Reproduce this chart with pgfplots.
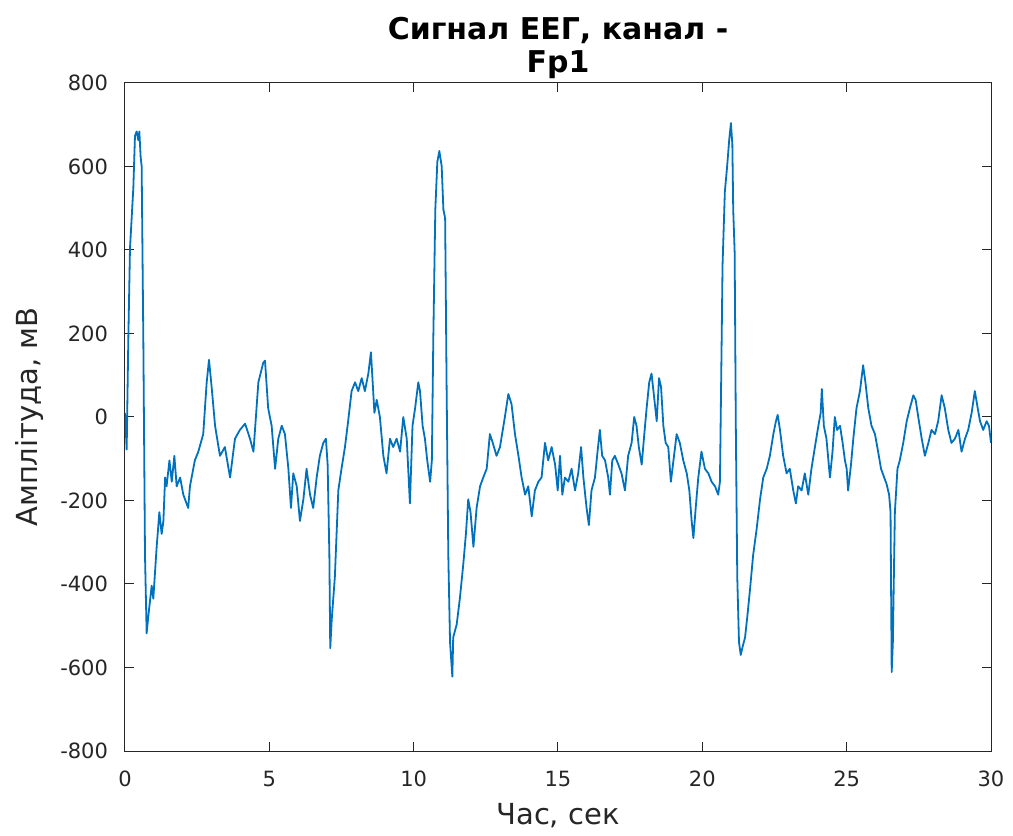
\documentclass[border=0pt]{standalone}
\usepackage{fontspec}
\setmainfont{DejaVu Sans}
\usepackage{pgfplots}
\pgfplotsset{compat=1.18}

\definecolor{mlblue}{HTML}{0072BD}
\definecolor{mlgray}{HTML}{262626}

\begin{document}
\begin{tikzpicture}
\begin{axis}[
    scale only axis,
    width=433pt, height=334pt,
    xmin=0, xmax=30, ymin=-800, ymax=800,
    xtick={0,5,...,30},
    ytick={-800,-600,...,800},
    tick align=inside,
    major tick length=4.5pt,
    axis line style={mlgray, line width=0.5pt},
    every tick/.style={mlgray, line width=0.5pt},
    /pgf/number format/assume math mode=true,
    tick label style={font=\fontsize{10.5}{12}\selectfont, text=mlgray},
    x tick label style={yshift=-6.5pt},
    y tick label style={xshift=-5pt},
    xlabel={Час, сек},
    ylabel={Амплітуда, мВ},
    label style={font=\fontsize{14.5}{17}\selectfont, text=mlgray},
    xlabel style={at={(axis description cs:0.5,-0.096)}, anchor=center},
    ylabel style={at={(axis description cs:-0.11,0.5)}, anchor=center},
    title={Сигнал ЕЕГ, канал -\\Fp1},
    title style={at={(axis description cs:0.5,1.035)}, anchor=center,
                 align=center, font=\bfseries\fontsize{15}{16.5}\selectfont},
]
\addplot[mlblue, line width=0.9pt, line join=round] coordinates {
(0,10) (0.058,-78) (0.115,186) (0.173,404) (0.289,549) (0.346,673) (0.404,684)
(0.462,663) (0.497,684) (0.543,622) (0.577,601) (0.635,186) (0.693,-331) (0.750,-518)
(0.808,-477) (0.924,-404) (0.981,-435) (1.097,-311) (1.19,-228) (1.27,-280) (1.33,-249)
(1.39,-145) (1.44,-166) (1.54,-104) (1.62,-155) (1.71,-93) (1.79,-166) (1.91,-145)
(2.02,-186) (2.19,-218) (2.25,-166) (2.42,-104) (2.54,-83) (2.71,-41) (2.83,83)
(2.91,137) (3.00,73) (3.12,-21) (3.29,-93) (3.46,-72) (3.64,-145) (3.81,-52)
(3.98,-31) (4.16,-16) (4.33,-52) (4.45,-83) (4.62,83) (4.79,130) (4.85,135)
(4.96,21) (5.08,-21) (5.20,-124) (5.31,-52) (5.43,-21) (5.54,-41) (5.66,-124)
(5.75,-218) (5.83,-135) (5.95,-166) (6.06,-249) (6.18,-197) (6.29,-124) (6.41,-186)
(6.52,-218) (6.64,-145) (6.75,-93) (6.87,-62) (6.96,-52) (7.02,-114) (7.08,-331)
(7.11,-554) (7.16,-487) (7.27,-383) (7.39,-176) (7.50,-124) (7.62,-72) (7.73,-10)
(7.85,62) (7.97,83) (8.08,62) (8.20,93) (8.31,62) (8.43,104) (8.52,155) (8.58,83)
(8.64,10) (8.72,41) (8.83,0) (8.95,-93) (9.06,-135) (9.18,-52) (9.29,-72) (9.41,-52)
(9.53,-83) (9.64,0) (9.76,-52) (9.87,-207) (9.96,-21) (10.05,21) (10.16,83)
(10.22,62) (10.31,-21) (10.39,-52) (10.47,-104) (10.57,-155) (10.63,-104) (10.68,186)
(10.75,497) (10.82,611) (10.89,637) (10.97,601) (11.03,497) (11.09,476) (11.14,83)
(11.20,-331) (11.26,-539) (11.34,-622) (11.37,-528) (11.49,-497) (11.60,-435)
(11.72,-352) (11.81,-280) (11.89,-197) (11.97,-228) (12.07,-311) (12.18,-218)
(12.30,-166) (12.41,-145) (12.53,-124) (12.64,-41) (12.74,-62) (12.87,-93) (12.99,-72)
(13.16,0) (13.28,55) (13.39,31) (13.51,-41) (13.63,-93) (13.74,-145) (13.86,-186)
(13.97,-166) (14.09,-238) (14.20,-176) (14.32,-155) (14.43,-145) (14.55,-62)
(14.66,-104) (14.78,-72) (14.90,-114) (14.99,-176) (15.07,-93) (15.15,-186)
(15.24,-145) (15.36,-155) (15.47,-124) (15.59,-176) (15.70,-135) (15.80,-72)
(15.88,-145) (15.99,-218) (16.07,-259) (16.16,-176) (16.28,-145) (16.37,-83)
(16.45,-31) (16.53,-93) (16.63,-104) (16.74,-145) (16.80,-186) (16.88,-104)
(16.97,-93) (17.09,-114) (17.20,-135) (17.32,-176) (17.43,-93) (17.55,-62) (17.64,0)
(17.72,-21) (17.80,-72) (17.90,-114) (17.99,-41) (18.07,21) (18.16,83) (18.24,104)
(18.34,41) (18.42,-10) (18.50,93) (18.57,72) (18.65,-21) (18.73,-62) (18.82,-72)
(18.91,-155) (19.00,-104) (19.11,-41) (19.22,-62) (19.34,-104) (19.46,-135)
(19.55,-176) (19.63,-249) (19.69,-290) (19.77,-218) (19.86,-145) (19.97,-83)
(20.09,-124) (20.21,-135) (20.32,-155) (20.44,-166) (20.55,-186) (20.61,-155)
(20.67,186) (20.70,363) (20.78,539) (20.86,601) (20.93,663) (20.99,704) (21.04,653)
(21.07,497) (21.12,394) (21.16,-21) (21.21,-383) (21.27,-539) (21.33,-570)
(21.40,-549) (21.48,-528) (21.56,-477) (21.65,-414) (21.76,-331) (21.88,-269)
(22.00,-197) (22.11,-145) (22.23,-124) (22.34,-93) (22.46,-41) (22.55,-10) (22.61,5)
(22.69,-31) (22.80,-93) (22.92,-135) (23.03,-124) (23.15,-176) (23.24,-207)
(23.32,-166) (23.44,-176) (23.55,-135) (23.67,-186) (23.78,-124) (23.90,-72)
(24.02,-21) (24.10,10) (24.14,67) (24.21,-21) (24.30,-52) (24.42,-145) (24.51,-83)
(24.59,0) (24.67,-31) (24.77,-21) (24.86,-62) (24.94,-104) (25.00,-124) (25.05,-176)
(25.15,-114) (25.23,-52) (25.34,21) (25.46,62) (25.57,124) (25.65,83) (25.75,21)
(25.86,-21) (25.98,-41) (26.09,-83) (26.19,-124) (26.30,-145) (26.38,-160)
(26.47,-186) (26.52,-228) (26.56,-611) (26.60,-540) (26.67,-228) (26.76,-124)
(26.84,-104) (26.96,-62) (27.08,-10) (27.19,21) (27.31,52) (27.39,41) (27.48,0)
(27.60,-52) (27.71,-93) (27.83,-62) (27.94,-31) (28.06,-41) (28.17,-10) (28.29,52)
(28.40,21) (28.52,-31) (28.63,-62) (28.75,-52) (28.87,-31) (28.98,-83) (29.10,-52)
(29.21,-31) (29.33,10) (29.44,62) (29.54,21) (29.62,-10) (29.73,-31) (29.85,-10)
(29.93,-21) (30.0,-62)
};
\end{axis}
\pgfresetboundingbox
\path[use as bounding box] (-62.5pt,-42.5pt) rectangle (444pt,375.5pt);
\end{tikzpicture}
\end{document}
